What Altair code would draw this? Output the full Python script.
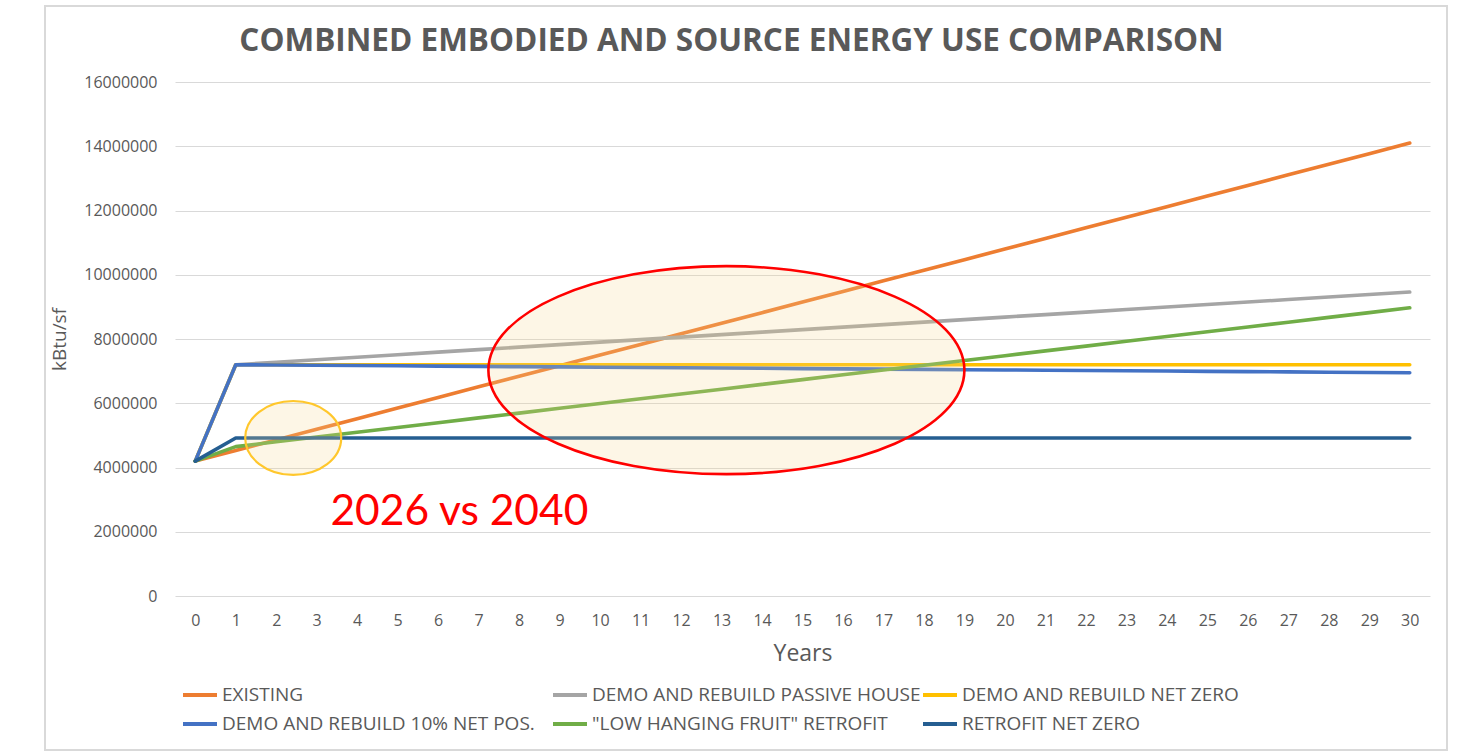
import altair as alt
import pandas as pd

years = list(range(31))

series_names = [
    "EXISTING",
    "DEMO AND REBUILD PASSIVE HOUSE",
    "DEMO AND REBUILD NET ZERO",
    "DEMO AND REBUILD 10% NET POS.",
    "\"LOW HANGING FRUIT\" RETROFIT",
    "RETROFIT NET ZERO",
]
series_colors = ["#ED7D31", "#A5A5A5", "#FFC000", "#4472C4", "#70AD47", "#255E91"]

existing = [4200000, 4530000, 4860000, 5190000, 5520000, 5850000, 6180000, 6510000,
            6840000, 7170000, 7500000, 7830000, 8160000, 8490000, 8820000, 9150000,
            9480000, 9810000, 10140000, 10470000, 10800000, 11130000, 11460000,
            11790000, 12120000, 12450000, 12780000, 13110000, 13440000, 13770000, 14100000]
passive_house = [4200000, 7200000, 7278000, 7356000, 7434000, 7512000, 7590000, 7668000,
                 7746000, 7824000, 7902000, 7980000, 8058000, 8136000, 8214000, 8292000,
                 8370000, 8448000, 8526000, 8604000, 8682000, 8760000, 8838000, 8916000,
                 8994000, 9072000, 9150000, 9228000, 9306000, 9384000, 9462000]
rebuild_net_zero = [4200000, 7200000, 7200000, 7200000, 7200000, 7200000, 7200000, 7200000,
                    7200000, 7200000, 7200000, 7200000, 7200000, 7200000, 7200000, 7200000,
                    7200000, 7200000, 7200000, 7200000, 7200000, 7200000, 7200000, 7200000,
                    7200000, 7200000, 7200000, 7200000, 7200000, 7200000, 7200000]
net_positive = [4200000, 7200000, 7191000, 7182000, 7174000, 7165000, 7157000, 7148000,
                7139000, 7131000, 7122000, 7114000, 7105000, 7096000, 7088000, 7079000,
                7071000, 7062000, 7053000, 7045000, 7036000, 7028000, 7019000, 7010000,
                7002000, 6993000, 6985000, 6976000, 6967000, 6959000, 6950000]
low_hanging = [4200000, 4650000, 4799000, 4948000, 5097000, 5246000, 5395000, 5544000,
               5693000, 5842000, 5991000, 6140000, 6289000, 6438000, 6587000, 6736000,
               6885000, 7034000, 7183000, 7332000, 7481000, 7630000, 7779000, 7928000,
               8077000, 8226000, 8375000, 8524000, 8673000, 8822000, 8971000]
retrofit_net_zero = [4200000, 4920000, 4920000, 4920000, 4920000, 4920000, 4920000, 4920000,
                     4920000, 4920000, 4920000, 4920000, 4920000, 4920000, 4920000, 4920000,
                     4920000, 4920000, 4920000, 4920000, 4920000, 4920000, 4920000, 4920000,
                     4920000, 4920000, 4920000, 4920000, 4920000, 4920000, 4920000]

y_ticks = [0, 2000000, 4000000, 6000000, 8000000, 10000000, 12000000, 14000000, 16000000]

# annotation ellipses (centre in data units)
small_x = [2.42]
small_y = [4920000]
big_x = [13.12]
big_y = [7030000]
label_x = [3.34]
label_y = [2210000]
label_text = ["2026 vs 2040"]

all_values = [existing, passive_house, rebuild_net_zero, net_positive, low_hanging, retrofit_net_zero]
rows = []
for name, vals in zip(series_names, all_values):
    for yr, v in zip(years, vals):
        rows.append({"Years": yr, "value": v, "series": name})
df = pd.DataFrame(rows)

W, H = 1255, 514
LEFT, TOP = 175, 82

x_scale = alt.Scale(domain=[-0.5, 30.5], nice=False, zero=False)
y_scale = alt.Scale(domain=[0, 16000000], nice=False)
color_scale = alt.Scale(domain=series_names, range=series_colors)

def ell_path(b):
    k = 0.5523
    return (f"M -1 0 C -1 {-k*b:.4f} {-k:.4f} {-b:.4f} 0 {-b:.4f} "
            f"C {k:.4f} {-b:.4f} 1 {-k*b:.4f} 1 0 "
            f"C 1 {k*b:.4f} {k:.4f} {b:.4f} 0 {b:.4f} "
            f"C {-k:.4f} {b:.4f} -1 {k*b:.4f} -1 0 Z")

border = alt.Chart(pd.DataFrame({"a": [0]})).mark_rect(
    fill=None, stroke="#d9d9d9", strokeWidth=2
).encode(
    x=alt.value(45 - LEFT), x2=alt.value(1447 - LEFT),
    y=alt.value(6 - TOP), y2=alt.value(750 - TOP)
)

layers = [border]
for i, name in enumerate(series_names):
    enc = dict(
        x=alt.X("Years:Q", scale=x_scale,
                axis=alt.Axis(values=years, title="Years", grid=False, domain=False,
                              ticks=False, labelPadding=16, labelFontSize=16,
                              labelColor="#595959", labelFont="Open Sans",
                              titleFont="Open Sans", titleFontSize=23,
                              titleFontWeight="normal", titleColor="#595959",
                              titlePadding=14)),
        y=alt.Y("value:Q", scale=y_scale,
                axis=alt.Axis(values=y_ticks, format="d", title="kBtu/sf", grid=True,
                              gridColor="#d9d9d9", gridWidth=1.2, domain=False, ticks=False,
                              labelPadding=18, labelFontSize=16, labelColor="#595959",
                              labelFont="Open Sans", titleFont="Open Sans",
                              titleFontSize=19, titleFontWeight="normal",
                              titleColor="#595959", titlePadding=14)),
        color=alt.Color("series:N", scale=color_scale,
                        legend=alt.Legend(title=None, orient="none", legendX=6, legendY=594,
                                          direction="horizontal",
                                          columns=3, gridAlign="all", columnPadding=-10,
                                          rowPadding=0, symbolType="stroke",
                                          symbolSize=1156, symbolStrokeWidth=4,
                                          labelOffset=3, labelFontSize=19,
                                          labelFont="Open Sans", labelColor="#595959",
                                          labelLimit=600)),
    )
    layers.append(
        alt.Chart(df).transform_filter(alt.datum.series == name)
        .mark_line(strokeWidth=3.6, strokeCap="round", strokeJoin="round")
        .encode(**enc)
    )

ann_fill = "#f5d78c"
small_ell = alt.Chart(pd.DataFrame({"x": small_x, "y": small_y})).mark_point(
    shape=ell_path(0.77), size=96 ** 2, filled=True, fill=ann_fill, fillOpacity=0.22,
    stroke="#FFC72C", strokeWidth=2.2, strokeOpacity=1, opacity=1
).encode(x=alt.X("x:Q", scale=x_scale), y=alt.Y("y:Q", scale=y_scale))

big_ell = alt.Chart(pd.DataFrame({"x": big_x, "y": big_y})).mark_point(
    shape=ell_path(0.437), size=476 ** 2, filled=True, fill=ann_fill, fillOpacity=0.22,
    stroke="#FF0000", strokeWidth=2.6, strokeOpacity=1, opacity=1
).encode(x=alt.X("x:Q", scale=x_scale), y=alt.Y("y:Q", scale=y_scale))

label = alt.Chart(pd.DataFrame({"x": label_x, "y": label_y, "t": label_text})).mark_text(
    font="Lato", fontSize=42.5, color="#FF0000", align="left", baseline="alphabetic"
).encode(x=alt.X("x:Q", scale=x_scale), y=alt.Y("y:Q", scale=y_scale), text="t:N")

chart = alt.layer(*layers, small_ell, big_ell, label).properties(
    width=W, height=H,
    autosize=alt.AutoSizeParams(type="none"),
    padding={"left": LEFT, "top": TOP, "right": 1457 - LEFT - W, "bottom": 753 - TOP - H},
    background="white",
    title=alt.TitleParams(
        "COMBINED EMBODIED AND SOURCE ENERGY USE COMPARISON",
        anchor="middle", frame="group", dx=-71, font="Open Sans", fontSize=31.5,
        fontWeight="bold", color="#595959", offset=-77, baseline="alphabetic"
    ),
).configure_view(stroke=None)

chart.save("out.html", embed_options={"renderer": "svg", "actions": False})
